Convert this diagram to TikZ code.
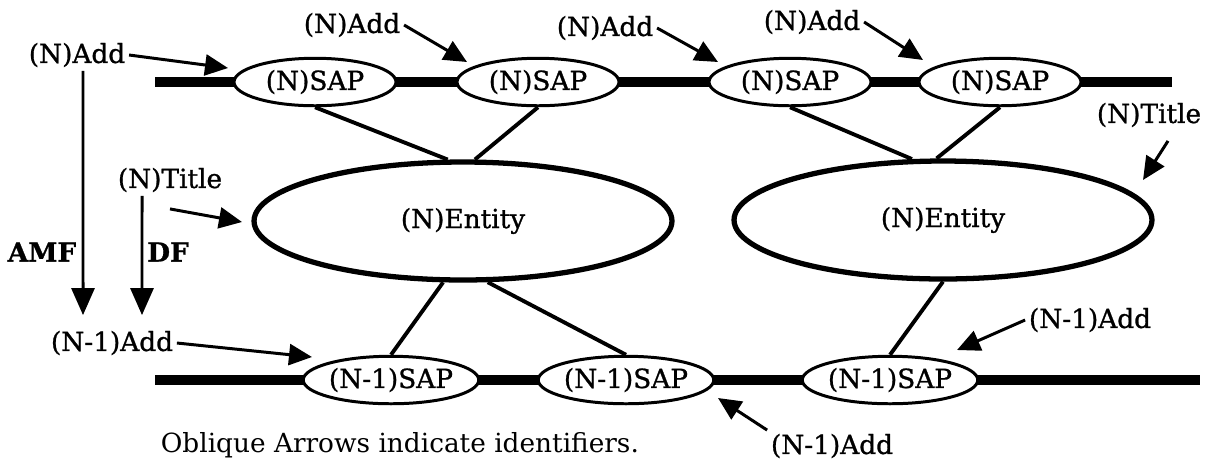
\documentclass[tikz,border=0pt]{standalone}
\usepackage{fontspec}
\setmainfont{DejaVu Serif}
\newfontfamily\lblfont{DejaVu Serif}[FakeBold=1]
\usetikzlibrary{shapes.geometric,arrows.meta}

\begin{document}
\begin{tikzpicture}[x=0.02cm,y=-0.02cm,
  every node/.style={font=\fontsize{15}{18}\lblfont,inner sep=2pt},
  sap/.style={ellipse,draw,line width=1.7pt,fill=white,minimum width=3.24cm,minimum height=0.95cm,inner sep=0pt},
  entity/.style={ellipse,draw,line width=3pt,fill=white,minimum width=8.36cm,minimum height=2.36cm},
  bus/.style={line width=5.7pt},
  link/.style={line width=2.2pt},
  ident/.style={line width=1.7pt,-{Triangle[length=0.46cm,width=0.42cm]}},
  flow/.style={line width=1.7pt,-{Triangle[length=0.54cm,width=0.46cm]}}]
\useasboundingbox (0,0) rectangle (1209,461);
% the two layers
\coordinate (tl) at (155,82);
\coordinate (tr) at (1172,82);
\coordinate (bl) at (155,380);
\coordinate (br) at (1200,380);
\draw[bus] (tl) -- (tr);
\draw[bus] (bl) -- (br);
\begin{scope}[]
    \node[sap] (S1) at (315,82) {(N)SAP};
    \node[sap] (S2) at (538,82) {(N)SAP};
    \node[sap] (S3) at (790,82) {(N)SAP};
    \node[sap] (S4) at (1000,82) {(N)SAP};
    \node[entity] (E1) at (463,221) {(N)Entity};
    \node[entity] (E2) at (943,220) {(N)Entity};
    \node[sap] (B1) at (391,380) {(N-1)SAP};
    \node[sap] (B2) at (626,380) {(N-1)SAP};
    \node[sap] (B3) at (890,380) {(N-1)SAP};
\end{scope}
\draw[link] (S1.south) -- (E1.104);
\draw[link] (S2.south) -- (E1.79);
\draw[link] (S3.south) -- (E2.117);
\draw[link] (S4.south) -- (E2.96);
\draw[link] (E1.252) -- (B1.north);
\draw[link] (E1.292) -- (B2.north);
\draw[link] (E2.south) -- (B3.north);
% labels
\node (A1) at (77,55) {(N)Add};
\node (A2) at (352,25) {(N)Add};
\node (A3) at (605,28) {(N)Add};
\node (A4) at (812,22) {(N)Add};
\node (T1) at (170,180) {(N)Title};
\node (T2) at (1149,115) {(N)Title};
\node (D1) at (112,343) {(N-1)Add};
\node (D2) at (832,446) {(N-1)Add};
\node (D3) at (1090,320) {(N-1)Add};
\node (amf) at (42,252) {\bfseries AMF};
\node (df) at (168,252) {\bfseries DF};
\node[anchor=west,font=\fontsize{15}{18}\rmfamily] (note) at (157,445) {Oblique Arrows indicate identifiers.};
% arrow tips
\coordinate (a1) at (228,68);
\coordinate (a2) at (467,62);
\coordinate (a3) at (718,62);
\coordinate (a4) at (923,60);
\coordinate (t1) at (242,222);
\coordinate (t2) at (1143,180);
\coordinate (d1) at (312,357);
\coordinate (d2) at (718,398);
\coordinate (d3) at (957,350);
\draw[ident] (A1.east) -- (a1);
\draw[ident] (A2.east) -- (a2);
\draw[ident] (A3.east) -- (a3);
\draw[ident] (A4.east) -- (a4);
\draw[ident] ([yshift=-0.26cm]T1.south) -- (t1);
\draw[ident] ([xshift=0.38cm,yshift=-0.2cm]T2.south) -- (t2);
\draw[ident] (D1.east) -- (d1);
\draw[ident] (D2.north west) -- (d2);
\draw[ident] (D3.west) -- (d3);
\draw[flow] ([xshift=0.12cm]A1.south) -- ([xshift=-0.58cm,yshift=0.24cm]D1.north);
\draw[flow] ([xshift=-0.56cm]T1.south) -- ([xshift=0.6cm,yshift=0.24cm]D1.north);
\end{tikzpicture}
\end{document}
